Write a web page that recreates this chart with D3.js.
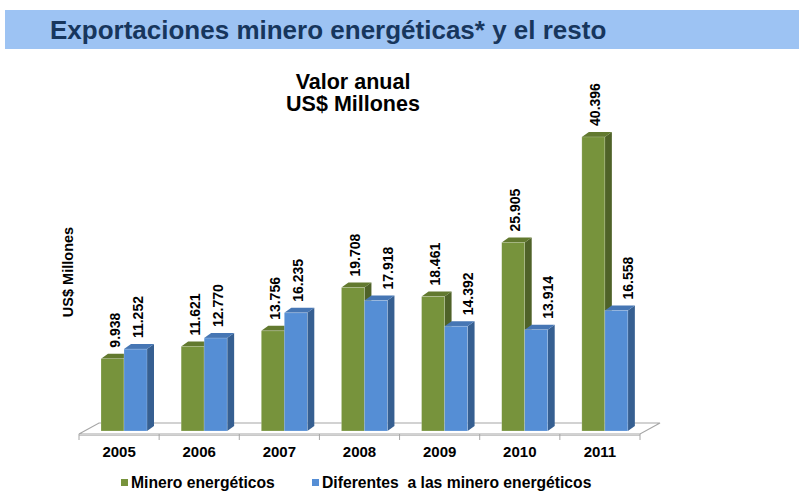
<!DOCTYPE html>
<html>
<head>
<meta charset="utf-8">
<script src="https://cdn.jsdelivr.net/npm/d3@7"></script>
<style>
  body { margin: 0; background: #fff; }
  text { font-family: "Liberation Sans", Arial, sans-serif; font-weight: bold; }
</style>
</head>
<body>
<div id="chart"></div>
<script>
// data (US$ millones)
const years = ["2005", "2006", "2007", "2008", "2009", "2010", "2011"];
const mineroValues = [9938, 11621, 13756, 19708, 18461, 25905, 40396];
const restoValues = [11252, 12770, 16235, 17918, 14392, 13914, 16558];
const seriesNames = ["Minero energéticos", "Diferentes  a las minero energéticos"];
const pageTitle = "Exportaciones minero energéticas* y el resto";
const chartTitle = ["Valor anual", "US$ Millones"];
const yTitle = "US$ Millones";

const W = 799, H = 494;
const depth = {dx: 7, dy: -5};
const floorDepth = {dx: 20, dy: -11};

const colors = {
    front: ["#77933c", "#558ed5"],
    side: ["#4f6228", "#365f91"],
    top: ["#62792f", "#4676b4"]
};

const svg = d3.select("#chart").append("svg")
    .attr("width", W)
    .attr("height", H);

// header band
svg.append("rect")
    .attr("x", 5).attr("y", 10)
    .attr("width", W - 5).attr("height", 39)
    .attr("fill", "#9dc3f3");

svg.append("text")
    .attr("x", 50).attr("y", 39)
    .attr("fill", "#17365d")
    .style("font-size", "26px")
    .text(pageTitle);

// chart title
svg.selectAll(".ctitle")
    .data(chartTitle)
    .join("text")
    .attr("class", "ctitle")
    .attr("x", 353)
    .attr("y", (d, i) => 89 + i * 22)
    .attr("text-anchor", "middle")
    .style("font-size", "21.5px")
    .text(d => d);

// scales
const x = d3.scaleBand()
    .domain(years)
    .range([79, 640]);

const xs = d3.scaleBand()
    .domain([0, 1])
    .range([22, 68]);

const y = d3.scaleLinear()
    .domain([0, 40000])
    .range([431, 139.8]);

const fmt = d3.formatLocale({decimal: ",", thousands: ".", grouping: [3], currency: ["", ""]}).format(",");

// floor
const fy = 434;
const x0 = x.range()[0], x1 = x.range()[1];
const floor = svg.append("g").attr("class", "floor");
floor.append("path")
    .attr("d", `M${x0},${fy} L${x0 + floorDepth.dx},${fy + floorDepth.dy} L${x1 + floorDepth.dx},${fy + floorDepth.dy} L${x1},${fy} Z`)
    .attr("fill", "#fff")
    .attr("stroke", "#a6a6a6")
    .attr("stroke-width", 1.2);
floor.append("line")
    .attr("x1", x0).attr("x2", x1)
    .attr("y1", fy + 1.5).attr("y2", fy + 1.5)
    .attr("stroke", "#c8c8c8");

// x axis ticks and labels
const xAxis = d3.axisBottom(x).tickSize(0).tickPadding(12);
const gx = svg.append("g")
    .attr("transform", `translate(0,${fy})`)
    .call(xAxis);
gx.select(".domain").remove();
gx.selectAll("text")
    .attr("fill", "#000")
    .style("font-size", "15px")
    .style("font-family", "'Liberation Sans', Arial, sans-serif")
    .style("font-weight", "bold");
gx.selectAll(".bound")
    .data(d3.range(years.length + 1))
    .join("line")
    .attr("class", "bound")
    .attr("x1", i => x0 + i * x.step())
    .attr("x2", i => x0 + i * x.step())
    .attr("y1", 0).attr("y2", 6)
    .attr("stroke", "#a6a6a6");

// bars
const barData = years.map((yr, i) => [
    {year: yr, s: 0, v: mineroValues[i], other: restoValues[i]},
    {year: yr, s: 1, v: restoValues[i], other: mineroValues[i]}
]).flat();

const base = y(0);
const bars = svg.append("g").attr("class", "bars")
    .selectAll("g")
    .data(barData)
    .join("g");

bars.each(function(d) {
    const g = d3.select(this);
    const bx0 = x(d.year) + xs(d.s);
    const bx1 = bx0 + xs.bandwidth();
    const top = y(d.v);
    g.append("path")
        .attr("d", `M${bx1},${top} L${bx1 + depth.dx},${top + depth.dy} L${bx1 + depth.dx},${base + depth.dy} L${bx1},${base} Z`)
        .attr("fill", colors.side[d.s]);
    g.append("path")
        .attr("d", `M${bx0},${top} L${bx0 + depth.dx},${top + depth.dy} L${bx1 + depth.dx},${top + depth.dy} L${bx1},${top} Z`)
        .attr("fill", colors.top[d.s]);
    g.append("rect")
        .attr("x", bx0).attr("y", top)
        .attr("width", bx1 - bx0).attr("height", base - top)
        .attr("fill", colors.front[d.s])
        .attr("stroke", "rgba(255,255,255,0.35)")
        .attr("stroke-width", 0.6);
});

// value labels
svg.append("g").attr("class", "labels")
    .selectAll("text")
    .data(barData)
    .join("text")
    .attr("transform", d => {
        const cx = x(d.year) + xs(d.s) + xs.bandwidth() / 2;
        const shift = (d.s === 1 && d.v < d.other) ? 12 : 2;
        return `translate(${cx + shift + 5},${y(d.v) - 11}) rotate(-90)`;
    })
    .style("font-size", "14px")
    .text(d => fmt(d.v));

// y title
svg.append("text")
    .attr("transform", "translate(73,272) rotate(-90)")
    .attr("text-anchor", "middle")
    .style("font-size", "14.5px")
    .text(yTitle);

// legend
const legendX = [121, 312];
const legend = svg.append("g").attr("class", "legend")
    .selectAll("g")
    .data(seriesNames)
    .join("g")
    .attr("transform", (d, i) => `translate(${legendX[i]},479)`);
legend.append("rect")
    .attr("width", 7).attr("height", 7)
    .attr("fill", (d, i) => colors.front[i]);
legend.append("text")
    .attr("x", 10).attr("y", 8.5)
    .style("font-size", "15.7px")
    .style("white-space", "pre")
    .text(d => d);
</script>
</body>
</html>
